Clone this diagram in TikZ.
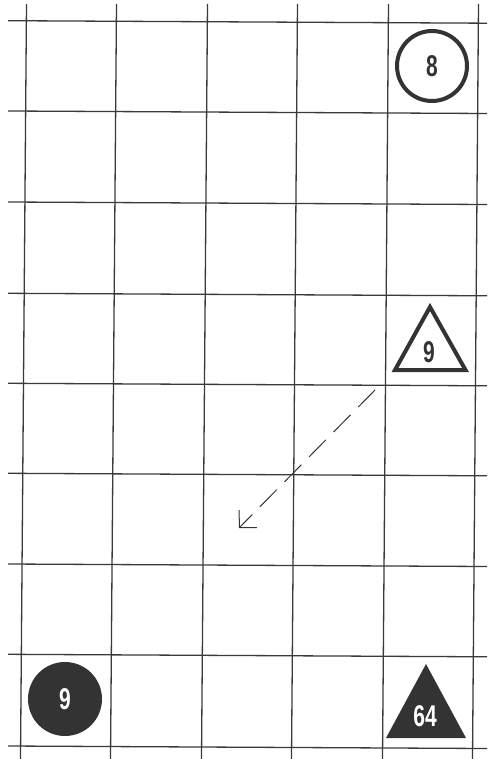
\documentclass[tikz,border=0pt]{standalone}
\usepackage{fontspec}
\setmainfont{Liberation Sans}
\usetikzlibrary{arrows.meta}
\definecolor{ink}{HTML}{333333}
\definecolor{gridc}{HTML}{3A3A3A}
\newcommand\cnum[1]{\scalebox{0.7}[1]{#1}}
\begin{document}
\begin{tikzpicture}[x=1pt,y=-1pt,
  gridline/.style={draw=gridc, line width=1.3pt},
  shapeline/.style={draw=ink, line width=4pt, line join=miter},
  numlabel/.style={font=\fontsize{30}{30}\selectfont\bfseries, text=ink, inner sep=0pt},
  whitelabel/.style={numlabel, text=white},
  arrowline/.style={draw=ink, line width=1pt, dash pattern=on 24pt off 11pt,
    -{Straight Barb[length=12pt,width=25pt,line width=1pt]}}
]
\useasboundingbox (0,0) rectangle (487,759);
% grid: horizontal lines (slightly tilted as in the reference)
\foreach \y in {20.7,111,202,293.3,383.3,473.3,564,654.3,746}
  \draw[gridline] (8,\y) -- (487,\y+2.5);
% grid: vertical lines
\foreach \x in {26.5,116.5,207.5,297.5,388.5,478.5}
  \draw[gridline] (\x,4) -- (\x-6,759);
% outlined circle 8
\node[circle, shapeline, minimum size=70pt, numlabel] (c8) at (432,66) {\cnum{8}};
% outlined triangle 9
\draw[shapeline] (430,307) -- (465.5,370) -- (395,370) -- cycle;
\node[numlabel] (t9) at (429,352) {\cnum{9}};
% dashed arrow
\coordinate (as) at (375,390);
\coordinate (ae) at (239,528);
\draw[arrowline] (as) -- (ae);
% filled circle 9
\node[circle, fill=ink, minimum size=74pt, whitelabel] (c9) at (65,699) {\cnum{9}};
% filled triangle 64
\fill[ink] (426,664) -- (466,738) -- (386,738) -- cycle;
\node[whitelabel] (t64) at (425,716) {\cnum{64}};
\end{tikzpicture}
\end{document}
